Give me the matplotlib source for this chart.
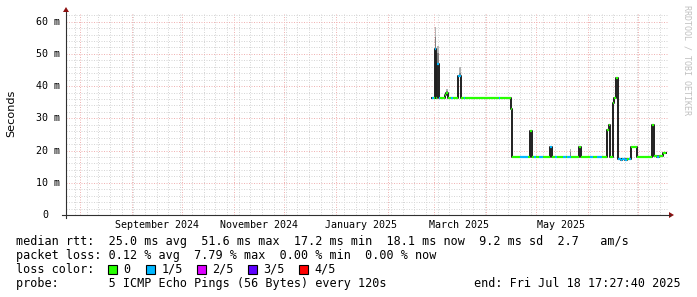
import numpy as np
import pandas as pd
import matplotlib
matplotlib.use('Agg')
import matplotlib.pyplot as plt
import matplotlib.dates as mdates
from matplotlib.patches import Rectangle, Polygon
from matplotlib.lines import Line2D
from matplotlib.transforms import ScaledTranslation, blended_transform_factory

W, H, DPI = 697, 297, 100

# ================== DATA ===================
end_time = pd.Timestamp('2025-07-18 17:27:40')
start_time = end_time - pd.Timedelta(days=360)

# median rtt (ms), each value holds from med_t[i] to med_t[i+1]
med_t = ['2025-02-27 16:00', '2025-02-28 12:00', '2025-03-01 10:00', '2025-03-02 00:00',
         '2025-03-02 08:00', '2025-03-03 12:00', '2025-03-03 20:00', '2025-03-04 16:00',
         '2025-03-07 08:00', '2025-03-08 06:00', '2025-03-09 06:00', '2025-03-11 06:00',
         '2025-03-12 06:00', '2025-03-15 08:00', '2025-03-16 20:00', '2025-03-18 12:00',
         '2025-03-19 12:00', '2025-04-08 12:00', '2025-04-09 06:00', '2025-04-15 18:00',
         '2025-04-16 10:00', '2025-04-21 06:00', '2025-04-26 00:00', '2025-04-27 08:00',
         '2025-04-28 12:00', '2025-04-29 12:00', '2025-05-01 00:00', '2025-05-02 12:00',
         '2025-05-05 00:00', '2025-05-09 02:00', '2025-05-10 08:00', '2025-05-12 00:00',
         '2025-05-13 12:00', '2025-05-17 00:00', '2025-05-18 12:00', '2025-05-19 12:00',
         '2025-05-21 12:00', '2025-05-26 12:00', '2025-05-27 20:00', '2025-06-02 00:00',
         '2025-06-04 00:00', '2025-06-06 00:00', '2025-06-09 00:00', '2025-06-12 04:00',
         '2025-06-13 06:00', '2025-06-14 00:00', '2025-06-15 14:00', '2025-06-16 10:00',
         '2025-06-17 10:00', '2025-06-18 14:00', '2025-06-20 12:00', '2025-06-21 12:00',
         '2025-06-23 00:00', '2025-06-24 12:00', '2025-06-25 06:00', '2025-06-26 14:00',
         '2025-06-30 04:00', '2025-07-08 22:00', '2025-07-10 08:00', '2025-07-12 00:00',
         '2025-07-13 12:00', '2025-07-16 00:00', '2025-07-17 10:00']
med_v = [36.3, 36.4, 51.5, 36.4,
         47.0, 36.4, 36.4, 36.4,
         37.2, 37.9, 36.4, 36.4,
         36.4, 43.0, 36.4, 36.4,
         36.4, 36.4, 36.4, 32.8,
         18.1, 18.0, 18.1, 26.0,
         18.1, 17.9, 18.1, 18.0,
         18.1, 21.0, 18.1, 17.9,
         18.1, 18.0, 18.1, 18.0,
         18.1, 21.2, 18.1, 18.0,
         18.1, 18.0, 18.1, 26.4,
         27.9, 18.1, 34.7, 36.3,
         42.6, 17.3, 17.0, 17.4,
         17.1, 17.5, 17.3, 21.0,
         18.1, 28.0, 18.2, 18.1,
         18.2, 19.2]
# loss count out of 5 pings for each step
med_loss = [1, 0, 1, 0,
            1, 0, 1, 0,
            0, 0, 0, 1,
            0, 1, 0, 1,
            0, 1, 0, 0,
            0, 1, 0, 0,
            0, 1, 0, 1,
            0, 1, 0, 1,
            0, 1, 0, 1,
            0, 0, 0, 1,
            0, 1, 0, 0,
            0, 0, 0, 0,
            0, 1, 1, 1,
            1, 0, 1, 0,
            0, 0, 0, 1,
            0, 0]

# smoke around the spikes (ms)
smoke_t0 = ['2025-03-01 16:00', '2025-03-02 14:00', '2025-03-08 06:00', '2025-03-15 14:00', '2025-05-21 00:00']
smoke_t1 = ['2025-03-02 00:00', '2025-03-03 12:00', '2025-03-09 06:00', '2025-03-16 20:00', '2025-05-21 16:00']
smoke_lo = [51.5, 47.0, 37.9, 43.0, 18.1]
smoke_mid = [55.3, 50.2, 38.4, 44.0, 19.5]
smoke_hi = [58.4, 52.5, 39.0, 46.0, 20.5]

loss_colors = ['#26ff00', '#00b8ff', '#dd00ff', '#5e00ff', '#ff0000']
loss_labels = ['0', '1/5', '2/5', '3/5', '4/5']

y_ticks = [0, 10, 20, 30, 40, 50, 60]
y_ticklabels = ['0', '10 m', '20 m', '30 m', '40 m', '50 m', '60 m']
x_labels = ['September 2024', 'November 2024', 'January 2025', 'March 2025', 'May 2025']
x_label_pos = ['2024-09-16', '2024-11-16', '2025-01-16', '2025-03-16', '2025-05-16']

legend_lines = ['median rtt:  25.0 ms avg  51.6 ms max  17.2 ms min  18.1 ms now  9.2 ms sd  2.7   am/s',
                'packet loss: 0.12 % avg  7.79 % max  0.00 % min  0.00 % now',
                'loss color:',
                'probe:       5 ICMP Echo Pings (56 Bytes) every 120s']
end_text = 'end: Fri Jul 18 17:27:40 2025'

# ================== PLOT ===================
MONO = 'DejaVu Sans Mono'
fig = plt.figure(figsize=(W / DPI, H / DPI), dpi=DPI)
fig.patch.set_facecolor('white')

x0, x1, ytop, ybot = 66, 668, 14, 215
ax = fig.add_axes([x0 / W, 1 - ybot / H, (x1 - x0) / W, (ybot - ytop) / H])
ax.set_facecolor('white')
ax.set_xlim(start_time, end_time)
ax.set_ylim(0, 62.4)
for s in ax.spines.values():
    s.set_visible(False)

ax.xaxis.set_major_locator(mdates.MonthLocator())
ax.xaxis.set_minor_locator(mdates.WeekdayLocator(byweekday=mdates.MO))
ax.set_yticks(y_ticks)
ax.set_yticks([v for v in np.arange(2, 62.4, 2) if v % 10 != 0], minor=True)
ax.tick_params(which='both', length=0, labelbottom=False, labelleft=False)
ax.grid(which='minor', color='#d6d6d6', lw=0.72, linestyle=(0, (1, 1.5)))
ax.grid(which='major', color='#f0b4b4', lw=0.72, linestyle=(0, (1, 1.5)))
ax.set_axisbelow(True)

tn = mdates.date2num(pd.to_datetime(med_t).to_pydatetime())
s0 = mdates.date2num(pd.to_datetime(smoke_t0).to_pydatetime())
s1 = mdates.date2num(pd.to_datetime(smoke_t1).to_pydatetime())

# smoke
for a, b, lo, mid, hi in zip(s0, s1, smoke_lo, smoke_mid, smoke_hi):
    ax.fill_between([a, b], [mid, mid], [hi, hi], color='#b4b4b4', lw=0, zorder=2)
    ax.fill_between([a, b], [lo, lo], [mid, mid], color='#808080', lw=0, zorder=2)

# dark median step line
vals = list(med_v) + [med_v[-1]]
ax.step(tn, vals, where='post', color='#202020', lw=1.4, zorder=3)
# loss-coloured median
cols = [loss_colors[l] for l in med_loss]
ax.hlines(med_v, tn[:-1], tn[1:], colors=cols, lw=1.6, zorder=4)

# y labels
tr = blended_transform_factory(ax.transAxes, ax.transData)
for v, lab in zip(y_ticks, y_ticklabels):
    off = -18 if lab == '0' else -6
    ax.text(0, v, lab, transform=tr + ScaledTranslation(off / DPI, 0, fig.dpi_scale_trans),
            ha='right', va='center', fontsize=7.2, family=MONO, color='#000000')

# x labels
trx = blended_transform_factory(ax.transData, ax.transAxes)
for d, lab in zip(x_label_pos, x_labels):
    ax.text(pd.Timestamp(d), 0, lab, transform=trx + ScaledTranslation(0, -13 / DPI, fig.dpi_scale_trans),
            ha='center', va='baseline', fontsize=7.2, family=MONO, color='#000000')

# axis lines + arrows
fig.add_artist(Line2D([x0 / W, x0 / W], [1 - 218 / H, 1 - 12 / H], color='#303030', lw=0.8))
fig.add_artist(Line2D([62 / W, 670 / W], [1 - ybot / H, 1 - ybot / H], color='#303030', lw=0.8))
fig.add_artist(Polygon([[(x0 - 3) / W, 1 - 12 / H], [(x0 + 3) / W, 1 - 12 / H], [x0 / W, 1 - 7 / H]],
                       closed=True, fc='#8c1010', ec='none'))
fig.add_artist(Polygon([[669 / W, 1 - 212 / H], [669 / W, 1 - 218 / H], [674 / W, 1 - ybot / H]],
                       closed=True, fc='#8c1010', ec='none'))

# y axis title
fig.text(11 / W, 1 - 113 / H, 'Seconds', rotation=90, ha='center', va='center',
         fontsize=8.1, family='DejaVu Sans', color='#000000')

# watermark
fig.text(687 / W, 1 - 60 / H, 'RRDTOOL / TOBI OETIKER', rotation=270, ha='center', va='center',
         fontsize=6.0, family=MONO, color='#c0c0c0')

# legend
fs = 8.5
baselines = [245, 259, 273, 287]
for line, yb in zip(legend_lines, baselines):
    fig.text(16 / W, 1 - yb / H, line, ha='left', va='baseline', fontsize=fs, family=MONO, color='#000000')
fig.text(681 / W, 1 - baselines[3] / H, end_text, ha='right', va='baseline', fontsize=fs, family=MONO, color='#000000')

box_x = [108, 146, 197, 248, 299]
for bx, c, lab in zip(box_x, loss_colors, loss_labels):
    fig.add_artist(Rectangle((bx / W, 1 - 274 / H), 9 / W, 9 / H, transform=fig.transFigure,
                             fc=c, ec='#000000', lw=0.8))
    fig.text((bx + 15.5) / W, 1 - baselines[2] / H, lab, ha='left', va='baseline',
             fontsize=fs, family=MONO, color='#000000')

fig.savefig('out.png', dpi=DPI, facecolor='white')
